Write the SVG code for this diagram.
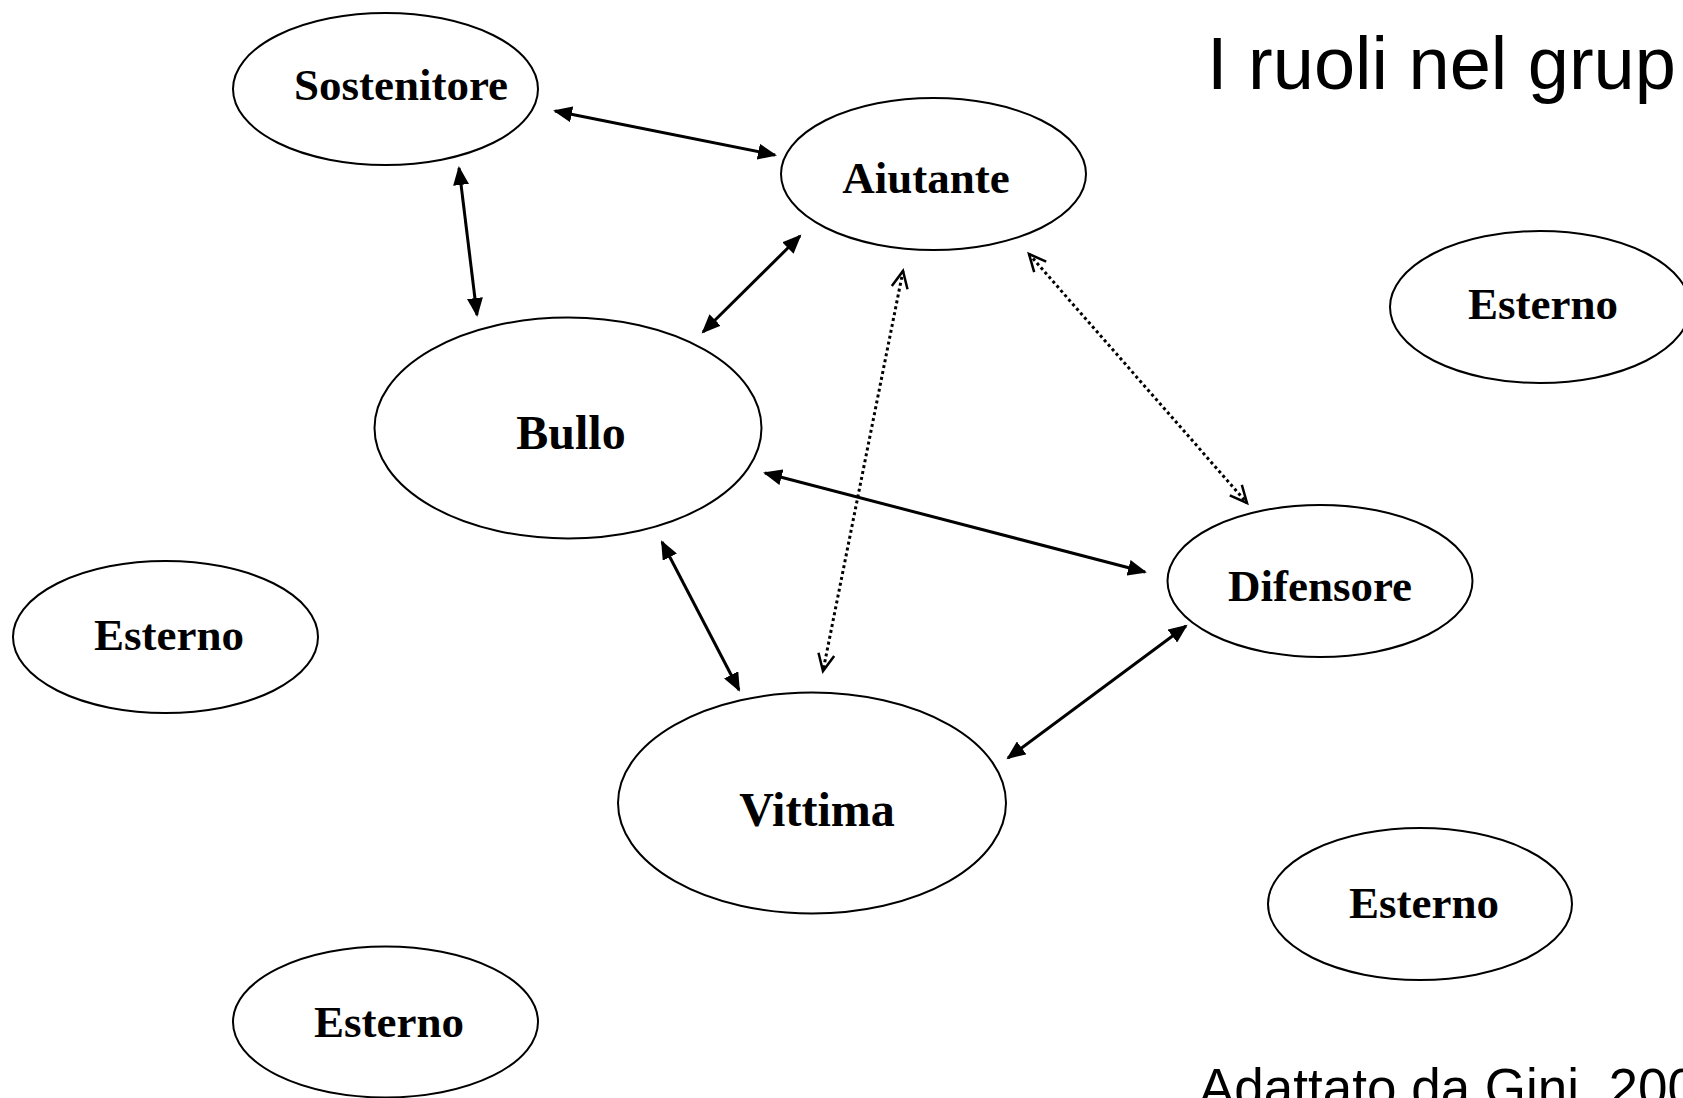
<svg xmlns="http://www.w3.org/2000/svg" width="1683" height="1098" viewBox="0 0 1683 1098">
<style>
.node ellipse{fill:#fff;stroke:#000;stroke-width:2}
.node text{font-family:"Liberation Serif","Times New Roman",serif;font-weight:bold;font-size:45px;text-anchor:middle;fill:#000}
.node.big text{font-size:48px}
.solid{stroke:#000;stroke-width:3;fill:none;marker-start:url(#fa);marker-end:url(#fa)}
.dot{stroke:#000;stroke-width:3;stroke-dasharray:3 3;fill:none;marker-start:url(#oa);marker-end:url(#oa)}
.label{font-family:"Liberation Sans",Arial,sans-serif;fill:#000}
</style>
<defs>
<marker id="fa" markerUnits="userSpaceOnUse" markerWidth="20" markerHeight="16" viewBox="0 0 20 16" refX="17" refY="8" orient="auto-start-reverse">
<path d="M0,0 L19,8 L0,16 z" fill="#000"/>
</marker>
<marker id="oa" markerUnits="userSpaceOnUse" markerWidth="22" markerHeight="20" viewBox="0 0 22 20" refX="18" refY="10" orient="auto-start-reverse">
<path d="M1,2 L18,10 L1,18" fill="none" stroke="#000" stroke-width="2.5"/>
</marker>
</defs>
<rect width="1683" height="1098" fill="#fff"/>
<text class="label" x="1207" y="89" font-size="74">I ruoli nel grup</text>
<text class="label" x="1199" y="1106" font-size="53">Adattato da Gini, 2008</text>
<g id="connectors">
<line class="solid" x1="555" y1="111" x2="775" y2="155"/>
<line class="solid" x1="800" y1="236" x2="703" y2="332"/>
<line class="solid" x1="459" y1="168" x2="477" y2="315"/>
<line class="solid" x1="765" y1="473" x2="1145" y2="572"/>
<line class="solid" x1="662" y1="542" x2="739" y2="690"/>
<line class="solid" x1="1008" y1="758" x2="1186" y2="626"/>
<line class="dot" x1="903" y1="271" x2="823" y2="671"/>
<line class="dot" x1="1029" y1="254" x2="1247" y2="503"/>
</g>
<g id="sostenitore" class="node"><ellipse cx="385.5" cy="89" rx="152.5" ry="76"/><text x="401" y="100">Sostenitore</text></g>
<g id="aiutante" class="node"><ellipse cx="933.5" cy="174" rx="152.5" ry="76"/><text x="926" y="193">Aiutante</text></g>
<g id="bullo" class="node big"><ellipse cx="568" cy="428" rx="193.5" ry="110.5"/><text x="571" y="449">Bullo</text></g>
<g id="difensore" class="node"><ellipse cx="1320" cy="581" rx="152.5" ry="76"/><text x="1320" y="601">Difensore</text></g>
<g id="vittima" class="node big"><ellipse cx="812" cy="803" rx="194" ry="110.5"/><text x="817" y="826">Vittima</text></g>
<g id="esterno1" class="node"><ellipse cx="165.5" cy="637" rx="152.5" ry="76"/><text x="169" y="650">Esterno</text></g>
<g id="esterno2" class="node"><ellipse cx="1540" cy="307" rx="150" ry="76"/><text x="1543" y="319">Esterno</text></g>
<g id="esterno3" class="node"><ellipse cx="1420" cy="904" rx="152" ry="76"/><text x="1424" y="918">Esterno</text></g>
<g id="esterno4" class="node"><ellipse cx="385.5" cy="1022" rx="152.5" ry="75.5"/><text x="389" y="1037">Esterno</text></g>
</svg>
